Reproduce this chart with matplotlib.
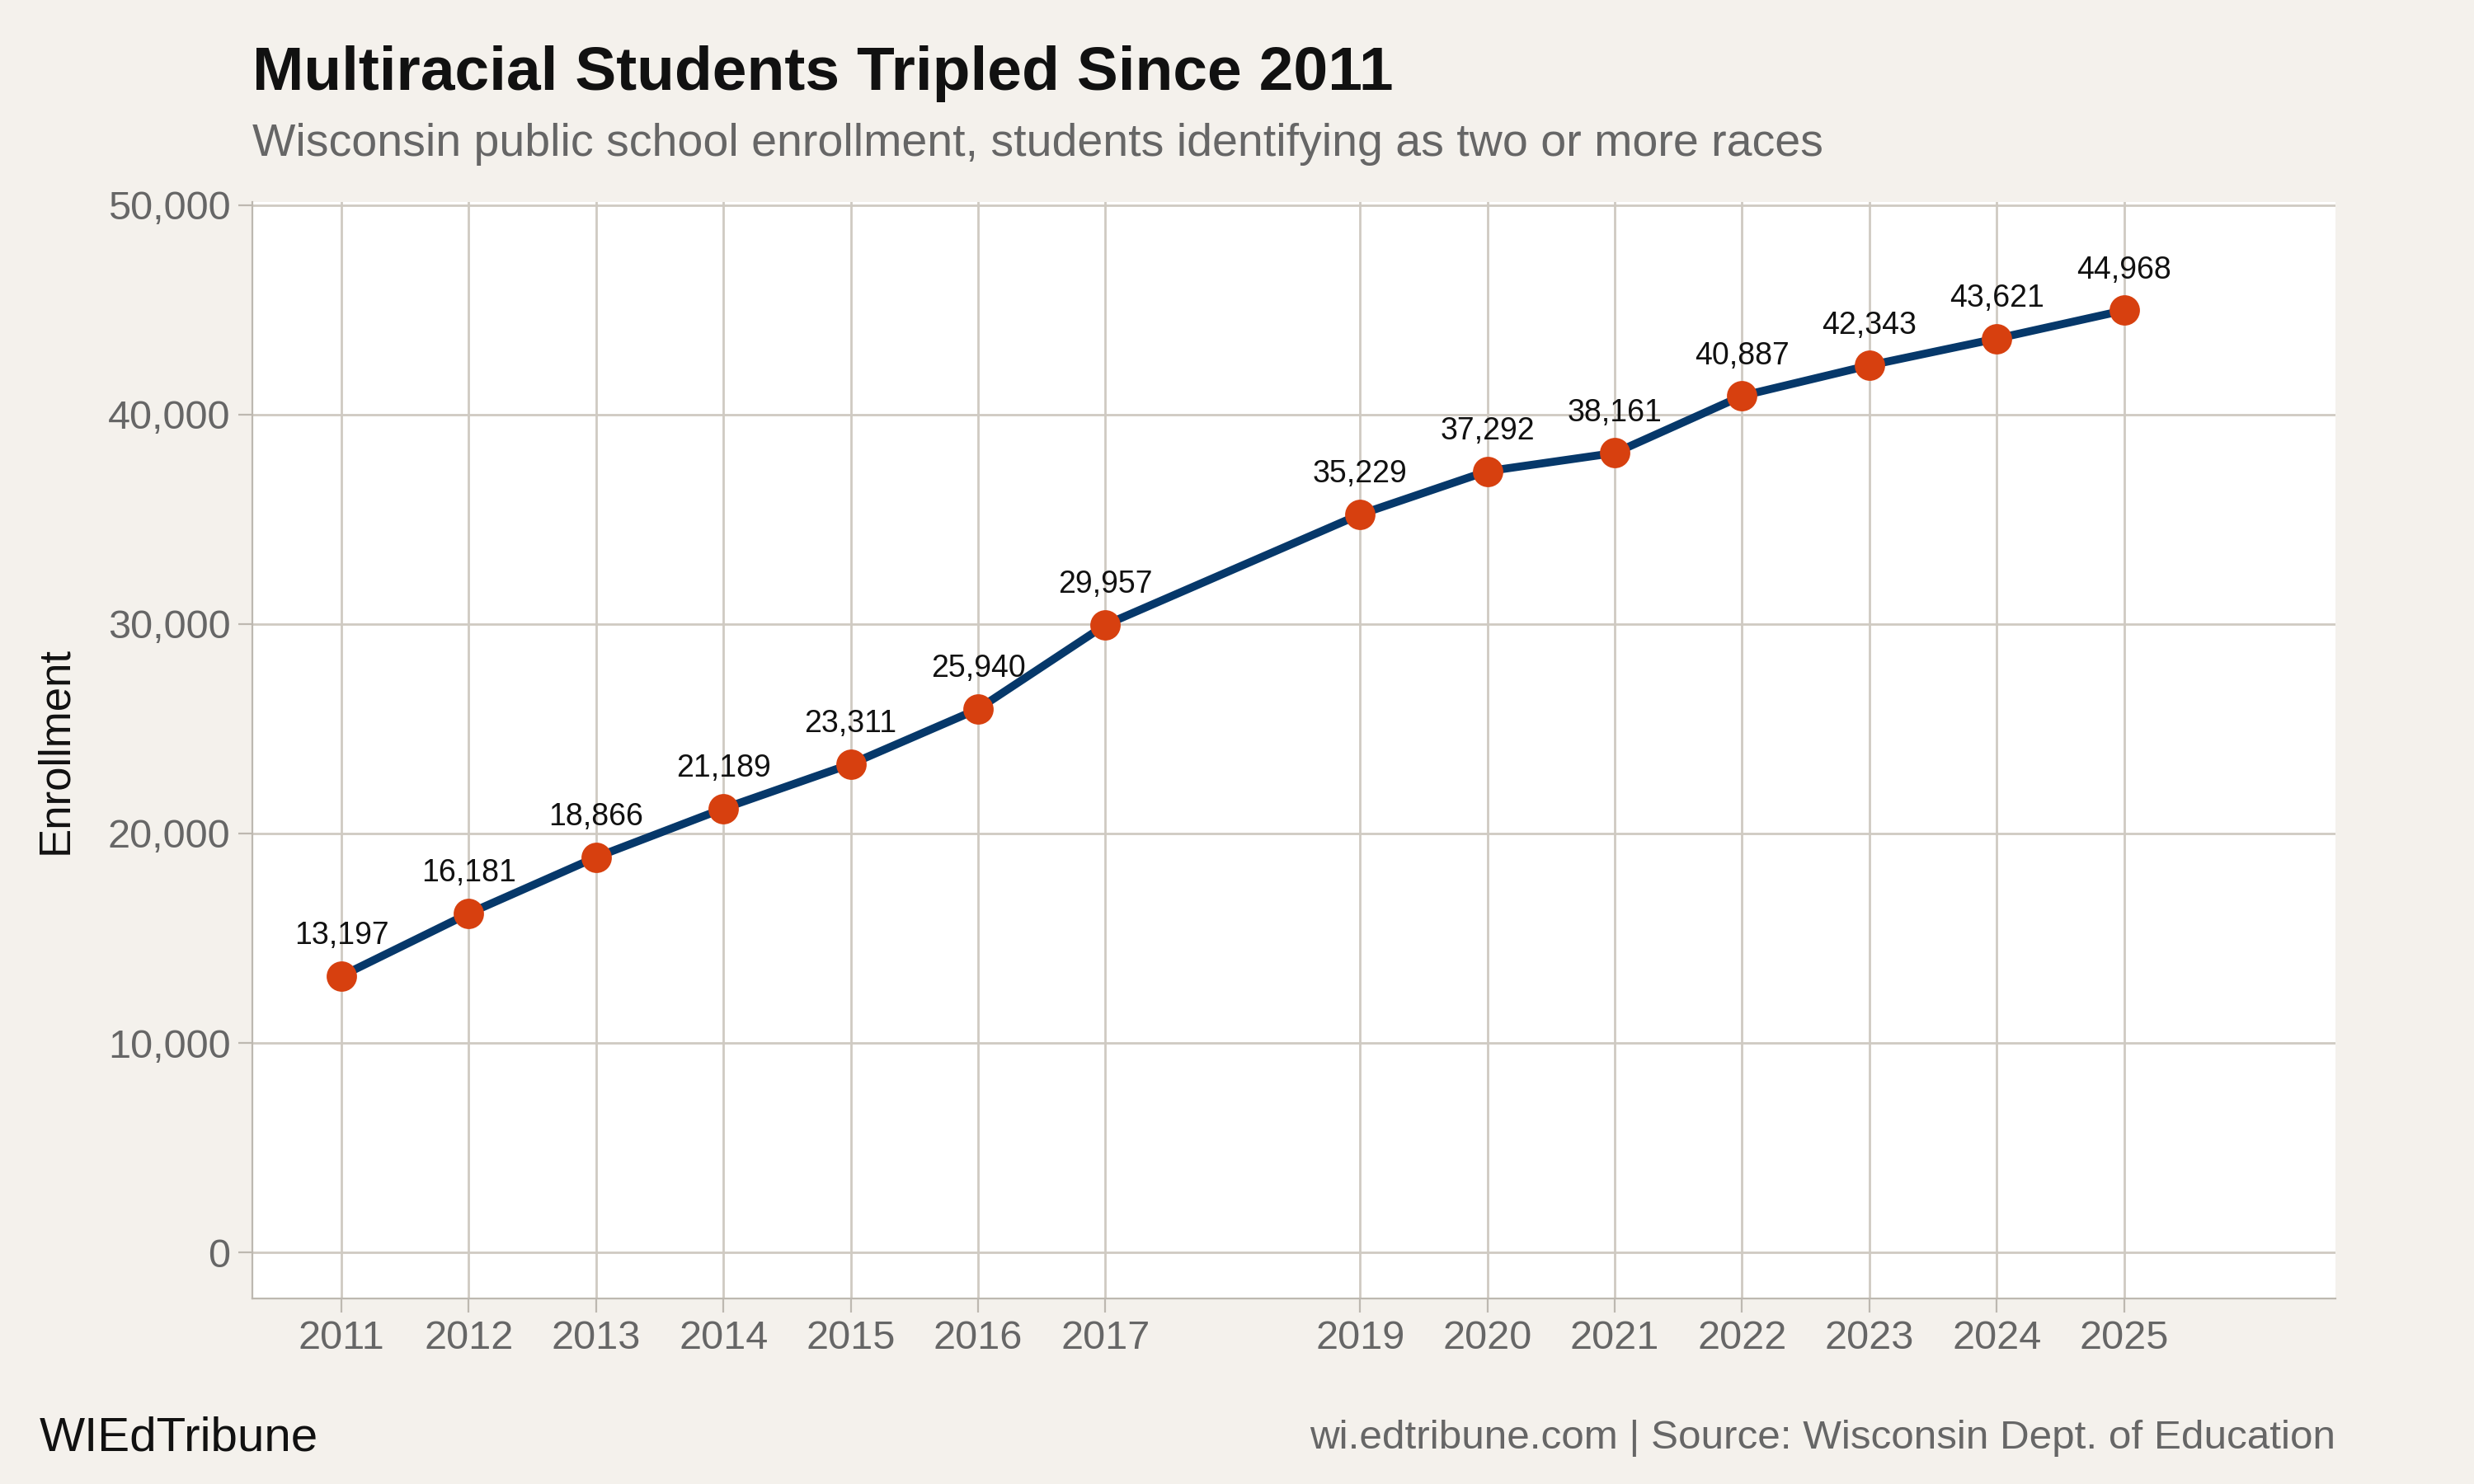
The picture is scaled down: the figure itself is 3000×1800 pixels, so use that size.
import matplotlib
matplotlib.use("Agg")
import matplotlib.pyplot as plt
from matplotlib.ticker import FuncFormatter

years = [2011, 2012, 2013, 2014, 2015, 2016, 2017, 2019, 2020, 2021, 2022, 2023, 2024, 2025]
enrollment = [13197, 16181, 18866, 21189, 23311, 25940, 29957, 35229, 37292, 38161, 40887, 42343, 43621, 44968]
yticks = [0, 10000, 20000, 30000, 40000, 50000]

plt.rcParams['font.family'] = ['Liberation Sans', 'DejaVu Sans']
bg = '#F4F1EC'
fig = plt.figure(figsize=(15, 9), dpi=200, facecolor=bg)
ax = fig.add_axes([0.102, 0.125, 0.842, 0.739])
ax.set_facecolor('white')

ax.plot(years, enrollment, color='#06386A', lw=3.5, zorder=3)
ax.scatter(years, enrollment, s=150, color='#D7400F', zorder=4)
for x, y in zip(years, enrollment):
    ax.annotate(f"{y:,}", (x, y), xytext=(0, 11), textcoords='offset points',
                ha='center', va='bottom', fontsize=13.5, color='#111111')

ax.set_xlim(2010.3, 2026.66)
ax.set_ylim(-2200, 50150)
ax.set_xticks(years)
ax.set_yticks(yticks)
ax.yaxis.set_major_formatter(FuncFormatter(lambda v, p: f"{int(v):,}"))
ax.grid(True, color='#CFCAC2', lw=1)
ax.set_axisbelow(True)
for s in ['top', 'right']:
    ax.spines[s].set_visible(False)
for s in ['left', 'bottom']:
    ax.spines[s].set_color('#BDB8B0')
ax.tick_params(colors='#BDB8B0', labelcolor='#666666', labelsize=17.5, length=6)
ax.set_ylabel('Enrollment', fontsize=19, color='#111111', labelpad=14)

fig.text(0.102, 0.95, 'Multiracial Students Tripled Since 2011', fontsize=27,
         fontweight='bold', color='#111111', ha='left', va='center')
fig.text(0.102, 0.903, 'Wisconsin public school enrollment, students identifying as two or more races',
         fontsize=20, color='#666666', ha='left', va='center')
fig.text(0.016, 0.031, 'WIEdTribune', fontsize=21, color='#111111', ha='left', va='center')
fig.text(0.944, 0.031, 'wi.edtribune.com | Source: Wisconsin Dept. of Education',
         fontsize=17.8, color='#666666', ha='right', va='center')

fig.savefig('out.png', dpi=200, facecolor=bg)
